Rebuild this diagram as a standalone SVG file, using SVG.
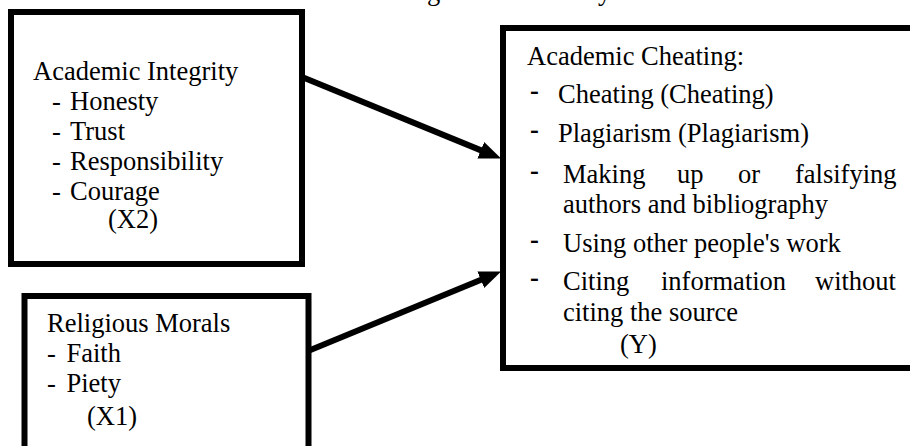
<svg xmlns="http://www.w3.org/2000/svg" width="910" height="446" viewBox="0 0 910 446">
  <style>
    .box { fill: #ffffff; stroke: #000000; stroke-width: 6; }
    .conn { stroke: #000000; stroke-width: 6; fill: none; marker-end: url(#arrow); }
  </style>
  <defs>
    <marker id="arrow" markerUnits="userSpaceOnUse" markerWidth="26" markerHeight="22" refX="1" refY="10" orient="auto">
      <path d="M0,1 L22,10 L0,19 Z" fill="#000000"/>
    </marker>
  </defs>
  <rect width="910" height="446" fill="#ffffff"/>

  <g font-family="'Liberation Serif'" font-size="26.5" fill="#000000">
    <g id="title-fragment">
      <text x="427" y="0">g</text>
      <text x="598" y="0">y</text>
    </g>

    <g id="node-academic-integrity">
      <rect class="box" x="11" y="12" width="291" height="252"/>
      <text x="33" y="80">Academic Integrity</text>
      <text y="110"><tspan x="52">-</tspan><tspan x="70">Honesty</tspan></text>
      <text y="140"><tspan x="52">-</tspan><tspan x="70">Trust</tspan></text>
      <text y="170"><tspan x="52">-</tspan><tspan x="70">Responsibility</tspan></text>
      <text y="200"><tspan x="52">-</tspan><tspan x="70">Courage</tspan></text>
      <text x="108" y="228">(X2)</text>
    </g>

    <g id="node-religious-morals">
      <rect class="box" x="24.5" y="296" width="284" height="190"/>
      <text x="47" y="332">Religious Morals</text>
      <text y="362"><tspan x="47">-</tspan><tspan x="66.5">Faith</tspan></text>
      <text y="392"><tspan x="47">-</tspan><tspan x="66.5">Piety</tspan></text>
      <text x="87" y="425">(X1)</text>
    </g>

    <g id="node-academic-cheating">
      <rect class="box" x="503" y="28" width="430" height="340"/>
      <text x="527" y="65">Academic Cheating:</text>
      <text font-weight="bold" x="530" y="99">-</text>
      <text x="558" y="103">Cheating (Cheating)</text>
      <text font-weight="bold" x="530" y="138">-</text>
      <text x="558" y="142">Plagiarism (Plagiarism)</text>
      <text font-weight="bold" x="530" y="179">-</text>
      <text y="183"><tspan x="563">Making</tspan><tspan x="677">up</tspan><tspan x="738">or</tspan><tspan x="795">falsifying</tspan></text>
      <text x="563" y="213">authors and bibliography</text>
      <text font-weight="bold" x="530" y="248">-</text>
      <text x="563" y="252">Using other people's work</text>
      <text font-weight="bold" x="530" y="286">-</text>
      <text y="290"><tspan x="563">Citing</tspan><tspan x="661">information</tspan><tspan x="815">without</tspan></text>
      <text x="563" y="321">citing the source</text>
      <text x="620" y="353">(Y)</text>
    </g>
  </g>

  <g id="connectors">
    <line class="conn" x1="302" y1="77" x2="481.7" y2="150.6"/>
    <line class="conn" x1="308" y1="351" x2="481.7" y2="279.4"/>
  </g>
</svg>
